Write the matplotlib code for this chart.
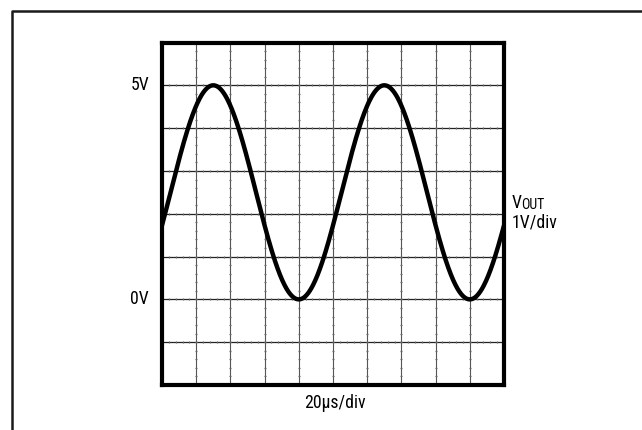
import numpy as np
import matplotlib
matplotlib.use("Agg")
import matplotlib.pyplot as plt
from matplotlib.lines import Line2D
from matplotlib import font_manager

# Oscilloscope capture: VOUT sine wave, 1V/div vertical, 20us/div horizontal
x_divs = 10              # horizontal graticule divisions
y_min, y_max = -2, 6     # volts shown (8 vertical divisions at 1V/div)
y_labels = [5, 0]        # labelled levels (V)
trace_low = 0.0          # V, trough of the trace
trace_high = 5.0         # V, crest of the trace
period_div = 5.0         # divisions per cycle (100us -> 10kHz)
first_peak_div = 1.5     # position of the first crest (div)

# prefer a condensed sans face when one is installed
names = {f.name for f in font_manager.fontManager.ttflist}
family = "Liberation Sans"
for cand in ["Liberation Sans Narrow", "Roboto Condensed", "DejaVu Sans Condensed",
             "Open Sans Condensed", "Noto Sans Condensed"]:
    if cand in names:
        family = cand
        break
plt.rcParams["font.family"] = [family, "DejaVu Sans"]

W, H = 642, 430
fig = plt.figure(figsize=(W / 100, H / 100), dpi=100)

# outer frame (left and top edges)
fig.add_artist(Line2D([12 / W, 12 / W, 1.0], [0.0, 1 - 11 / H, 1 - 11 / H],
                      transform=fig.transFigure, color="#1a1a1a", lw=1.8))

L, R, T, B = 162, 504, 42.5, 385
ax = fig.add_axes([L / W, 1 - B / H, (R - L) / W, (B - T) / H])
ax.set_xlim(0, x_divs)
ax.set_ylim(y_min, y_max)
ax.set_xticks([])
ax.set_yticks([])
for s in ax.spines.values():
    s.set_linewidth(3.0)
    s.set_color("black")

# graticule lines
for xv in range(1, x_divs):
    ax.axvline(xv, color="#555555", lw=0.8, zorder=1)
for yv in range(y_min + 1, y_max):
    ax.axhline(yv, color="#222222", lw=0.9, zorder=1)

# minor dots along graticule lines (5 per division)
minor_x = np.arange(0, x_divs + 1e-9, 0.2)
minor_y = np.arange(y_min, y_max + 1e-9, 0.2)
for yv in range(y_min, y_max + 1):
    ax.scatter(minor_x, np.full_like(minor_x, yv), marker="|", s=2.5, lw=0.9,
               color="#666666", zorder=1)
for xv in range(0, x_divs + 1):
    ax.scatter(np.full_like(minor_y, xv), minor_y, marker="_", s=2.5, lw=0.9,
               color="#666666", zorder=1)

# VOUT trace
t = np.linspace(0, x_divs, 800)
mid = (trace_high + trace_low) / 2
amp = (trace_high - trace_low) / 2
v = mid + amp * np.cos(2 * np.pi * (t - first_peak_div) / period_div)
ax.plot(t, v, color="black", lw=3.2, solid_capstyle="butt", zorder=3)

fs = 12.8
for yv in y_labels:
    ax.annotate(f"{yv}V", xy=(0, yv), xycoords=("axes fraction", "data"),
                xytext=(-13, 0), textcoords="offset pixels",
                ha="right", va="center", fontsize=fs)

ax.annotate("V", xy=(1, 2.25), xycoords=("axes fraction", "data"),
            xytext=(8, 0), textcoords="offset pixels",
            ha="left", va="center", fontsize=fs)
ax.annotate("OUT", xy=(1, 2.25), xycoords=("axes fraction", "data"),
            xytext=(17, -1.5), textcoords="offset pixels",
            ha="left", va="center", fontsize=fs * 0.78)
ax.annotate("1V/div", xy=(1, 1.8), xycoords=("axes fraction", "data"),
            xytext=(8, 0), textcoords="offset pixels",
            ha="left", va="center", fontsize=fs)

ax.annotate("20\u00b5s/div", xy=(0.5, 0), xycoords="axes fraction",
            xytext=(2, -9), textcoords="offset pixels",
            ha="center", va="top", fontsize=fs)

fig.savefig("out.png", dpi=100)
